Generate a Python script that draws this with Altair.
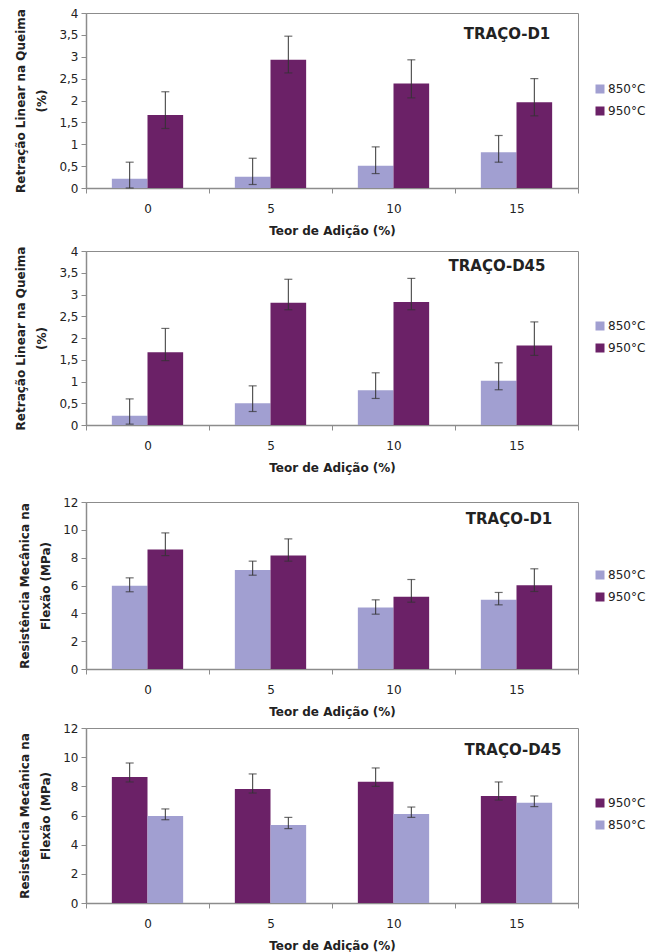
import altair as alt
import pandas as pd

categories = ["0", "5", "10", "15"]
t850 = "850°C"
t950 = "950°C"

# Panel 1 - Retração Linear na Queima, TRAÇO-D1
r_d1_850 = [0.21, 0.26, 0.51, 0.82]
r_d1_850_lo = [0.00, 0.08, 0.33, 0.59]
r_d1_850_hi = [0.59, 0.68, 0.94, 1.20]
r_d1_950 = [1.67, 2.93, 2.39, 1.96]
r_d1_950_lo = [1.36, 2.63, 2.06, 1.65]
r_d1_950_hi = [2.20, 3.47, 2.93, 2.50]

# Panel 2 - Retração Linear na Queima, TRAÇO-D45
r_d45_850 = [0.21, 0.50, 0.80, 1.02]
r_d45_850_lo = [0.02, 0.31, 0.61, 0.81]
r_d45_850_hi = [0.60, 0.90, 1.20, 1.43]
r_d45_950 = [1.67, 2.81, 2.83, 1.83]
r_d45_950_lo = [1.48, 2.65, 2.65, 1.60]
r_d45_950_hi = [2.22, 3.35, 3.37, 2.37]

# Panel 3 - Resistência Mecânica na Flexão, TRAÇO-D1
f_d1_850 = [5.98, 7.12, 4.42, 4.97]
f_d1_850_lo = [5.55, 6.74, 3.94, 4.61]
f_d1_850_hi = [6.55, 7.75, 4.97, 5.50]
f_d1_950 = [8.58, 8.15, 5.19, 6.02]
f_d1_950_lo = [8.15, 7.75, 4.80, 5.57]
f_d1_950_hi = [9.78, 9.35, 6.43, 7.20]

# Panel 4 - Resistência Mecânica na Flexão, TRAÇO-D45
f_d45_950 = [8.64, 7.82, 8.32, 7.34]
f_d45_950_lo = [8.30, 7.54, 8.00, 7.06]
f_d45_950_hi = [9.60, 8.85, 9.26, 8.30]
f_d45_850 = [5.97, 5.35, 6.10, 6.88]
f_d45_850_lo = [5.71, 5.10, 5.87, 6.61]
f_d45_850_hi = [6.45, 5.87, 6.58, 7.34]

LIGHT = "#a19fd1"
DARK = "#6b2167"
COLORS = {t850: LIGHT, t950: DARK}
FONT = "DejaVu Sans"


def make_df(series):
    rows = []
    for temp, vals, lo, hi in series:
        for c, v, l, h in zip(categories, vals, lo, hi):
            rows.append({"cat": c, "temp": temp, "val": v, "lo": l, "hi": h})
    return pd.DataFrame(rows)


def panel(df, order, label, ytitle, ymax, yvals, height, label_xy, legend_y):
    x = alt.X(
        "cat:N",
        sort=categories,
        scale=alt.Scale(domain=categories, paddingInner=0, paddingOuter=0),
        axis=alt.Axis(title="Teor de Adição (%)", labelAngle=0, tickBand="extent",
                      tickSize=5, labelPadding=10, titlePadding=11),
    )
    xo = alt.XOffset("temp:N", sort=order,
                     scale=alt.Scale(domain=order, paddingInner=0, paddingOuter=0.725))
    yscale = alt.Scale(domain=[0, ymax], nice=False, zero=True)
    yaxis = alt.Axis(title=ytitle, values=yvals,
                     labelExpr="replace(toString(datum.value), '.', ',')",
                     tickSize=5, labelPadding=3, titlePadding=10, titleLineHeight=21)
    color = alt.Color(
        "temp:N",
        scale=alt.Scale(domain=order, range=[COLORS[t] for t in order]),
        legend=alt.Legend(title=None, orient="none", legendX=508, legendY=legend_y,
                          symbolType="square", symbolSize=81, symbolStrokeWidth=0,
                          rowPadding=10, labelOffset=2),
    )
    base = alt.Chart(df)
    bars = base.mark_bar().encode(
        x=x, xOffset=xo, y=alt.Y("val:Q", scale=yscale, axis=yaxis), color=color
    )
    rules = base.mark_rule(color="#333333", strokeWidth=1).encode(
        x=x, xOffset=xo, y=alt.Y("lo:Q", scale=yscale, axis=yaxis), y2="hi:Q"
    )
    cap_lo = base.mark_tick(color="#333333", size=8, thickness=1.2).encode(
        x=x, xOffset=xo, y=alt.Y("lo:Q", scale=yscale, axis=yaxis)
    )
    cap_hi = base.mark_tick(color="#333333", size=8, thickness=1.2).encode(
        x=x, xOffset=xo, y=alt.Y("hi:Q", scale=yscale, axis=yaxis)
    )
    txt = alt.Chart(alt.Data(values=[{"t": label}])).mark_text(
        font=FONT, fontWeight="bold", fontSize=15, color="#222222", baseline="middle"
    ).encode(x=alt.value(label_xy[0]), y=alt.value(label_xy[1]), text="t:N")
    return alt.layer(bars, rules, cap_lo, cap_hi, txt).properties(width=492, height=height)


df1 = make_df([(t850, r_d1_850, r_d1_850_lo, r_d1_850_hi),
               (t950, r_d1_950, r_d1_950_lo, r_d1_950_hi)])
df2 = make_df([(t850, r_d45_850, r_d45_850_lo, r_d45_850_hi),
               (t950, r_d45_950, r_d45_950_lo, r_d45_950_hi)])
df3 = make_df([(t850, f_d1_850, f_d1_850_lo, f_d1_850_hi),
               (t950, f_d1_950, f_d1_950_lo, f_d1_950_hi)])
df4 = make_df([(t950, f_d45_950, f_d45_950_lo, f_d45_950_hi),
               (t850, f_d45_850, f_d45_850_lo, f_d45_850_hi)])

ret_title = ["Retração Linear na Queima", "(%)"]
res_title = ["Resistência Mecânica na", "Flexão (MPa)"]
ret_vals = [0, 0.5, 1, 1.5, 2, 2.5, 3, 3.5, 4]
res_vals = [0, 2, 4, 6, 8, 10, 12]

p1 = panel(df1, [t850, t950], "TRAÇO-D1", ret_title, 4, ret_vals, 175, (421, 21), 70)
p2 = panel(df2, [t850, t950], "TRAÇO-D45", ret_title, 4, ret_vals, 174, (411, 15), 69)
p3 = panel(df3, [t850, t950], "TRAÇO-D1", res_title, 12, res_vals, 167, (423, 17), 67)
p4 = panel(df4, [t950, t850], "TRAÇO-D45", res_title, 12, res_vals, 175, (427, 22), 69)

res = dict(color="independent", xOffset="independent", x="independent", y="independent")
top = alt.vconcat(p1, p2, spacing=7).resolve_scale(**res).resolve_legend(color="independent")
bottom = alt.vconcat(p3, p4, spacing=3).resolve_scale(**res).resolve_legend(color="independent")

chart = (
    alt.vconcat(top, bottom, spacing=21)
    .resolve_scale(**res)
    .resolve_legend(color="independent")
    .properties(padding={"top": 6, "left": 14, "right": 0, "bottom": 0})
    .configure_view(stroke="#8c8c8c", strokeWidth=1)
    .configure_axis(
        labelFont=FONT, labelFontSize=12, labelColor="#222222",
        titleFont=FONT, titleFontSize=12, titleFontWeight="bold", titleColor="#222222",
        domainColor="#8c8c8c", tickColor="#8c8c8c", domainWidth=1.5, grid=False,
    )
    .configure_legend(labelFont=FONT, labelFontSize=12, labelColor="#222222")
)

chart.save("out.html", embed_options={"renderer": "svg", "actions": False})
